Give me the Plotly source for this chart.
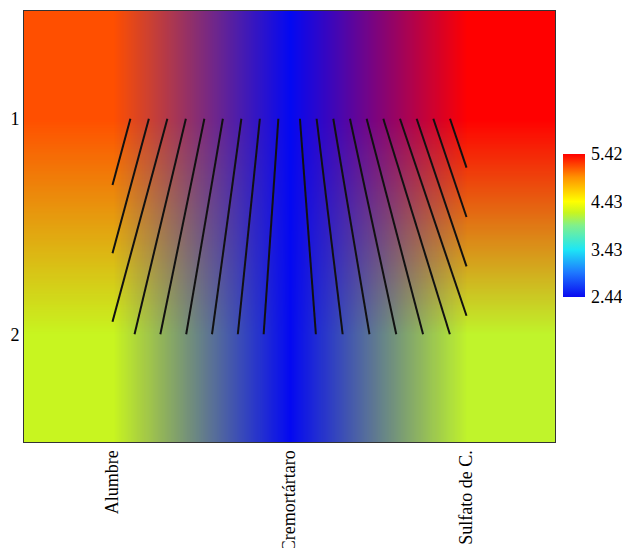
import numpy as np
import plotly.graph_objects as go
from plotly.colors import sample_colorscale, unlabel_rgb

# ---------------- data ----------------
agents = ["Alumbre", "Cremortártaro", "Sulfato de C."]
levels = [1, 2]
row_level1 = [5.16, 2.44, 5.42]
row_level2 = [4.20, 2.44, 4.17]
cbar_ticks = [2.44, 3.43, 4.43, 5.42]

z = np.array([row_level1, row_level2])
xpos = list(range(len(agents)))
zmin, zmax = cbar_ticks[0], cbar_ticks[-1]

colorscale = [
    [0.0, "rgb(10,10,240)"],
    [0.17, "rgb(30,120,255)"],
    [0.332, "rgb(30,230,245)"],
    [0.5, "rgb(128,240,140)"],
    [0.59, "rgb(200,245,32)"],
    [0.668, "rgb(255,255,0)"],
    [0.84, "rgb(255,144,0)"],
    [1.0, "rgb(255,0,0)"],
]


def rgb_of(v):
    c = sample_colorscale(colorscale, [(v - zmin) / (zmax - zmin)])[0]
    return tuple(int(round(float(k))) for k in unlabel_rgb(c))


# The reference blends colours in RGB space between the cells. Rebuild that
# with stacked heatmaps: level-2 colours at the bottom, level-1 colours fading
# in toward level 1, and the low (blue) column fading in horizontally on top.
is_low = np.isclose(z, z.min())
ncol = z.shape[1]


def fill_low(row, mask):
    out = np.array(row, dtype=float)
    for c in range(ncol):
        if mask[c]:
            neigh = [row[k] for k in (c - 1, c + 1) if 0 <= k < ncol and not mask[k]]
            out[c] = float(np.mean(neigh))
    return out


base_row = fill_low(z[1], is_low[1])
base = np.vstack([base_row, base_row])

FONT = "Liberation Serif"
FS = 18

fig = go.Figure()
fig.add_trace(go.Heatmap(
    x=xpos, y=levels, z=base, zsmooth="best",
    zmin=zmin, zmax=zmax, colorscale=colorscale,
    hoverinfo="skip",
    colorbar=dict(
        x=1.0145, xanchor="left", xpad=0,
        y=0.502, yanchor="middle", ypad=0,
        len=143, lenmode="pixels", thickness=22,
        outlinewidth=0, ticks="outside", ticklen=3,
        tickcolor="rgba(0,0,0,0)",
        tickvals=cbar_ticks, ticktext=[f"{v:.2f}" for v in cbar_ticks],
        tickfont=dict(family=FONT, size=FS, color="black"),
    ),
))

# level-1 colours fading toward level 2 (one overlay per non-low column)
for c in range(ncol):
    if is_low[0, c]:
        continue
    r, g, b = rgb_of(z[0, c])
    left = max(c - 1, xpos[0] - 0.5)
    right = min(c + 1, xpos[-1] + 0.5)
    fig.add_trace(go.Heatmap(
        x=[left, (left + right) / 2, right], y=levels,
        z=[[1, 1], [0, 0]], zsmooth="best", zmin=0, zmax=1,
        showscale=False, hoverinfo="skip",
        colorscale=[[0, f"rgba({r},{g},{b},0)"], [1, f"rgba({r},{g},{b},1)"]],
    ))

# low column (blue) fading toward its neighbours
br, bg, bb = (3, 8, 242)
fig.add_trace(go.Heatmap(
    x=xpos, y=levels, z=is_low.astype(float), zsmooth="best",
    zmin=0, zmax=1, showscale=False, hoverinfo="skip",
    colorscale=[[0, f"rgba({br},{bg},{bb},0)"], [1, f"rgba({br},{bg},{bb},1)"]],
))


# decorative fan-shaped hatching between level 1 and level 2,
# clipped to the span Alumbre .. Sulfato de C.
def hatch(side, n, top0, dtop, s0, ds, smax):
    xs, ys = [], []
    lo, hi = xpos[0], xpos[-1]
    ctr = xpos[1]
    y0, y1 = levels[0], levels[1]
    for j in range(n):
        xt = ctr + side * (top0 + dtop * j)
        s = side * min(s0 + ds * j, smax)
        xb, yb = xt + s * (y1 - y0), y1
        if xb < lo:
            yb = y0 + (lo - xt) / s
            xb = lo
        elif xb > hi:
            yb = y0 + (hi - xt) / s
            xb = hi
        xs += [xt, xb, None]
        ys += [y0, yb, None]
    return xs, ys


lx, ly = hatch(-1, 9, 0.063, 0.1045, 0.083, 0.0414, 0.329)
rx, ry = hatch(+1, 10, 0.059, 0.0942, 0.090, 0.0572, 0.411)
fig.add_trace(go.Scatter(
    x=lx + rx, y=ly + ry, mode="lines",
    line=dict(color="#111111", width=2),
    hoverinfo="skip", showlegend=False,
))

fig.update_layout(
    width=622, height=548,
    margin=dict(l=24, r=67, t=11, b=106, autoexpand=False),
    paper_bgcolor="white", plot_bgcolor="white",
    font=dict(family=FONT, size=FS, color="black"),
    showlegend=False,
)
fig.update_xaxes(
    range=[-0.5, 2.5], tickvals=xpos, ticktext=agents, tickangle=-90,
    showgrid=False, zeroline=False, ticks="",
    showline=True, mirror=True, linecolor="#333333", linewidth=1,
    automargin=False, tickfont=dict(family=FONT, size=FS, color="black"),
)
fig.update_yaxes(
    range=[2.5, 0.5], tickvals=levels, ticktext=[str(v) for v in levels],
    showgrid=False, zeroline=False, ticks="",
    showline=True, mirror=True, linecolor="#333333", linewidth=1,
    automargin=False, tickfont=dict(family=FONT, size=FS, color="black"),
)

fig.write_html("out.html")
